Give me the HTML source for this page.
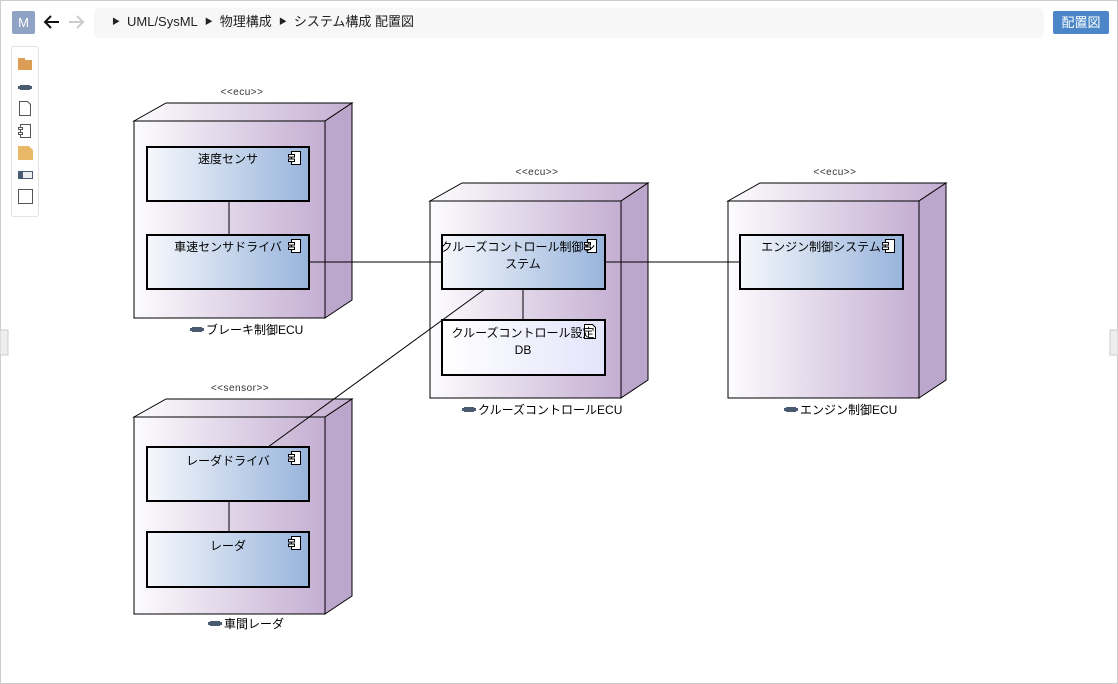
<!DOCTYPE html><html><head><meta charset="utf-8"><style>
body{margin:0;width:1118px;height:684px;overflow:hidden;background:#fff;font-family:"Liberation Sans","Noto Sans CJK JP",sans-serif}
#bc{position:absolute;left:112px;top:13px;font-size:13px;color:#222;white-space:nowrap;line-height:18px}
#bc span.s{font-size:8px;margin:0 7px 0 0;position:relative;top:-2px}
#bc span.s2{margin-left:7px}
</style></head><body>
<svg width="1118" height="684" xmlns="http://www.w3.org/2000/svg" style="position:absolute;left:0;top:0;font-family:'Liberation Sans','Noto Sans CJK JP',sans-serif">
<defs>
<linearGradient id="ng" x1="0" x2="1"><stop offset="0" stop-color="#fdfcfe"/><stop offset="1" stop-color="#c4aed2"/></linearGradient>
<linearGradient id="cg" x1="0" x2="1"><stop offset="0" stop-color="#f6f8fc"/><stop offset="1" stop-color="#98b4dc"/></linearGradient>
<linearGradient id="dg" x1="0" x2="1"><stop offset="0" stop-color="#ffffff"/><stop offset="1" stop-color="#e4e4fb"/></linearGradient>
<g id="node"><polygon points="0,0 32,-18 218,-18 191,0" fill="url(#ng)" stroke="#000"/><polygon points="191,0 218,-18 218,179 191,197" fill="#bba6cc" stroke="#000"/><rect x="0" y="0" width="191" height="197" fill="url(#ng)" stroke="#000"/></g>
<g id="ci"><rect x="3.5" y="0.5" width="9" height="13" fill="#fff" stroke="#000"/><rect x="0.5" y="3.5" width="6" height="2.5" fill="#fff" stroke="#000"/><rect x="0.5" y="8" width="6" height="2.5" fill="#fff" stroke="#000"/></g>
<g id="ni"><rect x="2" y="1" width="10" height="5" fill="#4a5a70"/><rect x="0" y="2" width="14" height="3" fill="#4a5a70"/></g>
</defs>
<rect x="0.5" y="0.5" width="1117" height="683" fill="none" stroke="#ccc"/>
<rect x="12" y="11" width="23" height="23" rx="2" fill="#8fa3c4"/><text x="23.5" y="27" font-size="13" fill="#fff" text-anchor="middle">M</text>
<g stroke="#111" stroke-width="2" fill="none"><path d="M45 22h14M51 16l-6 6 6 6"/></g>
<g stroke="#ccc" stroke-width="2" fill="none"><path d="M69 22h14M77 16l6 6-6 6"/></g>
<rect x="94" y="8" width="950" height="30" rx="5" fill="#f7f7f8"/>
<rect x="1053" y="11" width="56" height="23" rx="2" fill="#4a86c8"/><text x="1081" y="27" font-size="13" fill="#fff" text-anchor="middle">配置図</text>
<rect x="11.5" y="46.5" width="27" height="170" rx="2" fill="#fff" stroke="#e3e3e3"/>
<rect x="18" y="60" width="14" height="10" fill="#dc9e55"/><rect x="18" y="58" width="7" height="3" fill="#dc9e55"/>
<use href="#ni" x="18" y="84"/>
<path d="M19.5 101.5h8l3 3v11h-11z" fill="#fff" stroke="#555"/>
<rect x="20.5" y="124.5" width="10" height="13" fill="#fff" stroke="#555"/><rect x="18.5" y="127.5" width="4" height="2" fill="#fff" stroke="#555"/><rect x="18.5" y="132.5" width="4" height="2" fill="#fff" stroke="#555"/>
<path d="M18 146h11l4 4v10h-15z" fill="#e8b868"/>
<rect x="18.5" y="171.5" width="14" height="7" fill="#eee" stroke="#4a5a70"/><rect x="18" y="171" width="5" height="8" fill="#4a5a70"/>
<rect x="18.5" y="189.5" width="14" height="14" fill="#fff" stroke="#555"/>
<rect x="0" y="330" width="8" height="25" fill="#eee" stroke="#ccc"/><rect x="1110" y="330" width="8" height="25" fill="#eee" stroke="#ccc"/>
<use href="#node" x="134" y="121"/><use href="#node" x="430" y="201"/><use href="#node" x="728" y="201"/><use href="#node" x="134" y="417"/>
<g stroke="#000"><line x1="309" y1="262" x2="442" y2="262"/><line x1="605" y1="262" x2="740" y2="262"/><line x1="229" y1="201" x2="229" y2="235"/><line x1="523" y1="289" x2="523" y2="320"/><line x1="229" y1="501" x2="229" y2="532"/><line x1="268" y1="447" x2="485" y2="289"/></g>
<g stroke="#000" stroke-width="2">
<rect x="147" y="147" width="162" height="54" fill="url(#cg)"/><rect x="147" y="235" width="162" height="54" fill="url(#cg)"/>
<rect x="442" y="235" width="163" height="54" fill="url(#cg)"/><rect x="442" y="320" width="163" height="55" fill="url(#dg)"/>
<rect x="740" y="235" width="163" height="54" fill="url(#cg)"/>
<rect x="147" y="447" width="162" height="54" fill="url(#cg)"/><rect x="147" y="532" width="162" height="55" fill="url(#cg)"/>
</g>
<use href="#ci" x="288" y="151"/><use href="#ci" x="288" y="239"/><use href="#ci" x="584" y="239"/><use href="#ci" x="882" y="239"/><use href="#ci" x="288" y="451"/><use href="#ci" x="288" y="536"/>
<path d="M584.5 324.5h8l3 3v11h-11z" fill="#fff" stroke="#000"/>
<g font-size="12" fill="#000" text-anchor="middle">
<text x="228" y="163">速度センサ</text><text x="228" y="251">車速センサドライバ</text>
<text x="518" y="251">クルーズコントロール制御シ</text><text x="523" y="268">ステム</text>
<text x="523" y="337">クルーズコントロール設定</text><text x="523" y="354">DB</text>
<text x="821" y="251">エンジン制御システム</text>
<text x="228" y="465">レーダドライバ</text><text x="228" y="550">レーダ</text>
</g>
<g font-size="12" fill="#000"><text x="206" y="334">ブレーキ制御ECU</text><text x="478" y="414">クルーズコントロールECU</text><text x="800" y="414">エンジン制御ECU</text><text x="224" y="628">車間レーダ</text></g>
<g font-size="10" fill="#333" text-anchor="middle" letter-spacing="0.5"><text x="242" y="95">&lt;&lt;ecu&gt;&gt;</text><text x="537" y="175">&lt;&lt;ecu&gt;&gt;</text><text x="835" y="175">&lt;&lt;ecu&gt;&gt;</text><text x="240" y="391">&lt;&lt;sensor&gt;&gt;</text></g>
<use href="#ni" x="190" y="326"/><use href="#ni" x="462" y="406"/><use href="#ni" x="784" y="406"/><use href="#ni" x="208" y="620"/>
</svg>
<div id="bc"><span class="s">▶</span>UML/SysML<span class="s s2">▶</span>物理構成<span class="s s2">▶</span>システム構成 配置図</div>
</body></html>
